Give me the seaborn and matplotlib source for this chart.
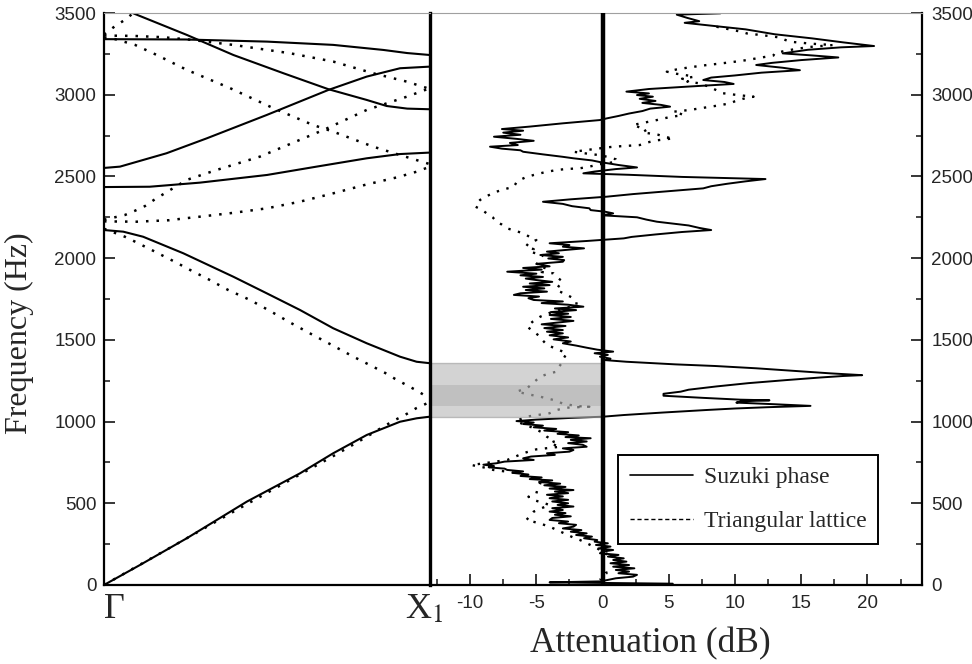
import numpy as np
import pandas as pd
import matplotlib
matplotlib.use("Agg")
import matplotlib.pyplot as plt
from matplotlib.lines import Line2D
from matplotlib.ticker import MultipleLocator
import seaborn as sns

# ---- band structure Gamma -> X1 (k = fraction of the path), frequency in Hz
# Suzuki phase (solid)
s1_k = [0, 0.11, 0.254, 0.438, 0.601, 0.703, 0.806, 0.908, 0.959, 1.0]
s1_f = [0, 122, 286, 510, 683, 806, 918, 999, 1020, 1030]
s2_k = [0, 0.059, 0.12, 0.243, 0.397, 0.499, 0.601, 0.703, 0.806, 0.908, 0.959, 1.0]
s2_f = [2172, 2162, 2131, 2030, 1886, 1785, 1683, 1571, 1479, 1397, 1366, 1357]
s3_k = [0, 0.14, 0.294, 0.5, 0.652, 0.806, 0.908, 1.0]
s3_f = [2435, 2437, 2462, 2509, 2560, 2611, 2637, 2646]
s4_k = [0, 0.049, 0.192, 0.315, 0.499, 0.688, 0.806, 0.908, 1.0]
s4_f = [2552, 2560, 2642, 2733, 2876, 3029, 3111, 3162, 3172]
s5_k = [0, 0.25, 0.5, 0.703, 0.857, 0.93, 1.0]
s5_f = [3340, 3338, 3325, 3305, 3274, 3255, 3243]
s6_k = [0, 0.045, 0.09, 0.254, 0.397, 0.551, 0.688, 0.806, 0.867, 0.93, 1.0]
s6_f = [3560, 3535, 3498, 3366, 3243, 3131, 3034, 2968, 2931, 2915, 2911]

# triangular lattice (dotted)
t1_k = [0, 0.2, 0.4, 0.6, 0.7, 0.8, 0.857, 0.893, 0.923, 0.957, 1.0]
t1_f = [0, 225, 452, 675, 785, 900, 969, 1010, 1040, 1081, 1120]
t2_k = [0, 0.064, 0.095, 0.126, 0.162, 0.192, 0.223, 0.254, 0.32, 0.381, 0.448,
        0.509, 0.57, 0.637, 0.703, 0.765, 0.826, 0.862, 0.893, 0.959, 0.988, 1.0]
t2_f = [2180, 2131, 2101, 2070, 2034, 2003, 1972, 1938, 1871, 1805, 1744,
        1677, 1607, 1534, 1464, 1397, 1335, 1298, 1261, 1190, 1155, 1150]
t3_k = [0, 0.1, 0.2, 0.25, 0.3, 0.4, 0.5, 0.6, 0.7, 0.8, 0.9, 0.959, 1.0]
t3_f = [2225, 2223, 2232, 2244, 2255, 2278, 2305, 2345, 2395, 2448, 2495, 2529, 2560]
t4_k = [0, 0.064, 0.095, 0.126, 0.156, 0.254, 0.346, 0.478, 0.6, 0.673, 0.806, 0.929, 1.0]
t4_f = [2235, 2264, 2290, 2319, 2360, 2479, 2540, 2621, 2723, 2784, 2907, 2988, 3040]
t5_k = [0, 0.034, 0.095, 0.162, 0.254, 0.387, 0.518, 0.641, 0.703, 0.826, 0.908, 1.0]
t5_f = [3348, 3340, 3305, 3243, 3152, 3040, 2919, 2815, 2774, 2682, 2631, 2575]
t6_k = [0, 0.09, 0.18, 0.254, 0.396, 0.57, 0.703, 0.826, 0.929, 1.0]
t6_f = [3362, 3360, 3352, 3339, 3305, 3254, 3203, 3131, 3080, 3035]
t7_k = [0, 0.034, 0.064, 0.09, 0.11]
t7_f = [3368, 3420, 3458, 3500, 3540]

# ---- measured attenuation (dB) vs frequency (Hz)
suzuki_hz = [3506, 3498, 3490, 3470, 3450, 3440, 3425, 3400, 3370, 3345, 3320, 3298, 3290, 3275,
             3253, 3240, 3228, 3212, 3195, 3182, 3165, 3150, 3135, 3118, 3105, 3090, 3078, 3066,
             3050, 3035, 3019, 3008, 2998, 2988, 2975, 2962, 2950, 2938, 2927, 2915, 2900, 2885,
             2870, 2855, 2845, 2825, 2805, 2790, 2780, 2768, 2755, 2743, 2730, 2718, 2705, 2692,
             2682, 2670, 2660, 2651, 2635, 2620, 2611, 2598, 2588, 2570, 2555, 2545, 2530, 2519,
             2510, 2497, 2484, 2470, 2455, 2440, 2427, 2410, 2392, 2376, 2360, 2345, 2332, 2318,
             2305, 2294, 2284, 2274, 2262, 2250, 2236, 2223, 2200, 2185, 2172, 2160, 2145, 2130,
             2121, 2105, 2091, 2080, 2070, 2060, 2050, 2040, 2030, 2019, 2008, 1998, 1988, 1978,
             1965, 1950, 1940, 1930, 1917, 1905, 1895, 1885, 1875, 1866, 1855, 1845, 1835, 1825,
             1815, 1805, 1795, 1785, 1775, 1765, 1755, 1744, 1735, 1725, 1715, 1703, 1692, 1682,
             1670, 1660, 1652, 1640, 1628, 1616, 1605, 1595, 1585, 1572, 1560, 1550, 1540, 1528,
             1515, 1503, 1490, 1479, 1465, 1452, 1440, 1428, 1418, 1408, 1397, 1385, 1376, 1366,
             1350, 1340, 1326, 1310, 1295, 1284, 1279, 1270, 1254, 1235, 1215, 1195, 1183, 1170,
             1158, 1145, 1134, 1130, 1124, 1116, 1106, 1096, 1088, 1080, 1071, 1055, 1040, 1030,
             1022, 1012, 1003, 994, 985, 975, 965, 955, 945, 935, 925, 915, 905, 898,
             888, 878, 868, 858, 846, 836, 826, 816, 806, 796, 786, 775, 765, 755,
             745, 736, 728, 720, 712, 704, 695, 686, 676, 667, 658, 648, 640, 630,
             620, 610, 600, 590, 581, 572, 562, 552, 542, 531, 521, 511, 500, 490,
             480, 470, 459, 449, 440, 430, 420, 410, 398, 388, 378, 368, 357, 346,
             336, 326, 316, 306, 296, 286, 275, 265, 255, 245, 235, 224, 214, 204,
             194, 184, 174, 163, 153, 143, 133, 122, 112, 102, 92, 82, 72, 62,
             51, 41, 31, 22, 16, 12, 8]
suzuki_db = [4.8, 8.9, 5.6, 6.4, 7.3, 6.2, 7.9, 10.8, 13.0, 15.8, 18.2, 20.5, 18.0, 15.5,
             13.6, 15.9, 17.8, 15.0, 12.8, 11.6, 13.6, 14.9, 12.0, 10.0, 8.2, 7.6, 9.2, 9.9,
             6.5, 3.5, 1.8, 3.5, 2.6, 3.8, 2.8, 4.0, 3.0, 4.4, 5.1, 3.6, 3.0, 2.0,
             1.2, 0.3, -0.2, -3.0, -5.5, -7.6, -6.0, -7.5, -6.2, -8.2, -6.5, -5.2, -7.0, -6.4,
             -8.5, -7.6, -6.2, -6.0, -4.5, -3.0, -2.2, -0.8, -0.2, 1.2, 2.6, 1.0, -0.6, -1.45,
             2.0, 6.0, 12.3, 10.8, 9.4, 8.2, 7.6, 5.0, 2.3, 0.3, -2.4, -4.5, -3.0, -2.3,
             -1.0, -0.9, 0.2, 0.8, 0.0, 2.6, 3.3, 4.1, 6.5, 7.3, 8.2, 6.0, 4.0, 2.2,
             1.6, -1.2, -4.0, -2.5, -3.0, -1.4, -2.8, -4.2, -3.3, -4.7, -3.0, -4.1, -2.9, -3.0,
             -5.0, -4.0, -6.0, -4.6, -7.2, -5.0, -6.2, -4.5, -5.8, -5.0, -3.8, -5.5, -4.0, -6.0,
             -4.4, -5.8, -4.2, -6.2, -6.7, -4.8, -5.6, -5.2, -3.0, -4.6, -2.6, -1.45, -3.6, -2.0,
             -3.9, -2.6, -4.0, -2.4, -3.9, -2.2, -3.5, -4.6, -2.8, -4.4, -3.0, -4.2, -3.0, -4.0,
             -2.6, -3.7, -2.4, -3.0, -2.0, -1.2, -0.4, 0.8, -0.6, 0.4, -0.2, 0.6, 0.2, 1.8,
             5.5, 8.5, 11.6, 14.5, 17.2, 19.6, 18.2, 16.5, 13.9, 11.0, 8.6, 6.5, 5.9, 4.6,
             4.6, 7.6, 10.4, 12.6, 10.5, 10.1, 13.0, 15.7, 12.5, 10.0, 7.9, 4.5, 1.6, 0.06,
             -2.5, -5.0, -6.5, -5.2, -6.0, -4.5, -5.2, -3.5, -4.4, -2.6, -3.4, -1.8, -2.8, -0.9,
             -2.4, -1.2, -2.6, -1.5, -1.2, -3.0, -2.2, -2.5, -4.2, -3.6, -5.4, -6.0, -5.2, -7.4,
             -8.0, -9.0, -8.2, -8.6, -7.4, -7.2, -6.0, -6.8, -5.6, -6.2, -4.6, -5.5, -3.8, -4.8,
             -3.2, -4.4, -2.8, -4.0, -2.2, -3.6, -2.6, -4.2, -3.0, -4.0, -2.6, -3.8, -2.6, -3.4,
             -2.2, -3.8, -3.0, -4.0, -2.8, -3.6, -2.4, -3.8, -4.0, -2.6, -3.3, -2.0, -2.2, -3.0,
             -1.6, -2.4, -1.2, -2.0, -0.8, -1.4, -0.4, -0.6, 0.4, -0.5, 0.6, -0.3, 0.8, 0.0,
             -0.2, 1.2, 0.4, 1.6, 0.8, 1.8, 0.6, 2.0, 0.8, 2.4, 1.0, 2.0, 1.2, 2.6,
             2.3, 1.0, 0.4, -0.2, -4.0, 0.5, 5.3]

triangular_hz = [3416, 3400, 3385, 3375, 3360, 3350, 3335, 3324, 3312, 3304, 3292, 3280, 3270, 3255,
                 3240, 3225, 3212, 3200, 3190, 3182, 3168, 3155, 3141, 3128, 3118, 3110, 3098, 3088,
                 3080, 3070, 3060, 3049, 3035, 3020, 3009, 2998, 2988, 2975, 2960, 2947, 2935, 2925,
                 2917, 2907, 2896, 2886, 2876, 2862, 2845, 2830, 2815, 2800, 2784, 2770, 2755, 2740,
                 2733, 2720, 2708, 2692, 2682, 2668, 2651, 2640, 2630, 2621, 2605, 2590, 2575, 2560,
                 2550, 2545, 2539, 2525, 2509, 2495, 2480, 2465, 2450, 2437, 2422, 2407, 2392, 2375,
                 2356, 2335, 2315, 2295, 2274, 2250, 2223, 2205, 2182, 2165, 2152, 2130, 2111, 2090,
                 2070, 2055, 2039, 2019, 1990, 1958, 1935, 1915, 1907, 1880, 1856, 1830, 1805, 1780,
                 1754, 1735, 1713, 1690, 1665, 1642, 1610, 1581, 1550, 1519, 1495, 1469, 1445, 1418,
                 1392, 1366, 1335, 1305, 1290, 1275, 1240, 1204, 1183, 1165, 1152, 1132, 1110, 1095,
                 1091, 1085, 1070, 1051, 1030, 1015, 999, 980, 959, 935, 907, 880, 867, 846,
                 830, 806, 785, 765, 750, 734, 720, 704, 683, 660, 640, 622, 590, 560,
                 540, 520, 490, 470, 449, 420, 398, 378, 357, 320, 290, 275, 240, 215,
                 194, 160, 133, 100, 72, 50, 31]
triangular_db = [8.6, 9.6, 10.5, 10.9, 12.5, 13.4, 13.8, 14.2, 15.8, 17.4, 15.6, 14.6, 13.9, 13.0,
                 12.9, 11.8, 10.9, 9.8, 8.8, 7.9, 6.6, 5.6, 4.85, 5.6, 6.4, 6.9, 6.0, 6.6,
                 6.4, 7.3, 7.6, 8.1, 8.4, 8.8, 9.1, 10.2, 11.4, 10.6, 10.0, 9.6, 8.8, 8.0,
                 7.4, 6.6, 5.35, 5.8, 6.1, 5.0, 4.1, 3.2, 2.3, 2.8, 3.3, 3.0, 4.2, 4.8,
                 5.35, 4.0, 3.4, 2.8, 0.8, -0.6, -2.2, -1.2, -0.2, 0.3, 1.0, 1.1, -0.2, -1.0,
                 -1.7, -2.8, -3.5, -4.4, -5.2, -5.8, -6.2, -6.5, -6.6, -6.7, -7.4, -8.0, -8.4, -8.9,
                 -9.25, -9.5, -9.6, -9.1, -8.75, -8.3, -8.0, -7.6, -7.2, -6.5, -6.0, -5.5, -5.0, -5.6,
                 -5.8, -5.2, -5.5, -4.5, -4.8, -5.0, -4.2, -4.6, -3.7, -3.4, -3.0, -3.3, -3.5, -2.8,
                 -2.2, -2.0, -1.95, -3.0, -4.0, -4.7, -5.3, -5.7, -5.2, -4.7, -4.5, -4.2, -3.5, -2.7,
                 -2.9, -3.0, -3.3, -3.5, -4.2, -4.7, -5.2, -5.7, -6.5, -5.5, -4.7, -3.7, -3.0, -2.0,
                 -1.0, -2.7, -3.5, -4.0, -5.75, -6.2, -6.5, -5.8, -5.2, -4.6, -4.2, -3.6, -4.0, -3.2,
                 -5.0, -6.0, -6.6, -7.2, -8.5, -9.9, -9.0, -8.25, -6.2, -5.5, -5.0, -4.7, -4.9, -5.0,
                 -5.6, -5.2, -4.0, -4.6, -5.2, -5.5, -5.75, -4.8, -4.0, -3.0, -2.2, -1.7, -0.8, -0.2,
                 0.3, 0.1, 0.06, 0.2, 0.3, 0.0, -0.2]

gap_outer = (1030, 1360)   # Suzuki band gap (light shading)
gap_inner = (1095, 1224)   # darker core
freq_ticks = list(range(0, 3501, 500))
att_ticks = [-10, -5, 0, 5, 10, 15, 20]
att_lim = (-13.03, 24.1)

sns.set_style("ticks")
plt.rcParams.update({
    "font.family": ["Liberation Sans", "DejaVu Sans"],
    "mathtext.fontset": "stix",
    "axes.unicode_minus": False,
    "axes.edgecolor": "black",
})

DOTS = (0, (1, 3.2))
serif = ["Liberation Serif", "DejaVu Serif"]


def band_frame(pairs):
    rows = []
    for i, (k, f) in enumerate(pairs):
        rows.append(pd.DataFrame({"k": k, "f": f, "band": i}))
    return pd.concat(rows, ignore_index=True)


suzuki_bands = band_frame([(s1_k, s1_f), (s2_k, s2_f), (s3_k, s3_f),
                           (s4_k, s4_f), (s5_k, s5_f), (s6_k, s6_f)])
tri_bands = band_frame([(t1_k, t1_f), (t2_k, t2_f), (t3_k, t3_f), (t4_k, t4_f),
                        (t5_k, t5_f), (t6_k, t6_f), (t7_k, t7_f)])

fig = plt.figure(figsize=(9.72, 6.64), dpi=100)
ax2 = fig.add_axes([0.4424, 0.1190, 0.5059, 0.8614])
ax1 = fig.add_axes([0.1070, 0.1190, 0.3354, 0.8614])
ax1.patch.set_alpha(0)

# left: band structure
sns.lineplot(data=tri_bands, x="k", y="f", units="band", estimator=None, sort=False,
             color="black", lw=1.8, linestyle=DOTS, dash_capstyle="butt", ax=ax1)
sns.lineplot(data=suzuki_bands, x="k", y="f", units="band", estimator=None, sort=False,
             color="black", lw=1.5, ax=ax1)
ax1.set_xlim(0, 1)
ax1.set_ylim(0, 3500)
# symmetry point labels (X1 nudged left so the subscript sits past the line)
ax1.set_xticks([0, 0.982])
ax1.set_xticklabels(["Γ", "X$_1$"])
for lab in ax1.get_xticklabels():
    lab.set_fontfamily(serif)
    lab.set_fontsize(26)
ax1.get_xticklabels()[0].set_horizontalalignment("left")
ax1.tick_params(axis="x", length=0, pad=6)
ax1.set_yticks(freq_ticks)
ax1.yaxis.set_minor_locator(MultipleLocator(250))
ax1.tick_params(axis="y", which="major", direction="in", length=8, width=1.3,
                labelsize=13.5, pad=5.5)
ax1.tick_params(axis="y", which="minor", direction="in", length=4.5, width=1.2)
ax1.set_xlabel("")
ax1.set_ylabel("Frequency (Hz)", fontfamily=serif, fontsize=23)
ax1.yaxis.set_label_coords(-0.215, 0.44)
for side in ["left", "bottom"]:
    ax1.spines[side].set_linewidth(1.6)
ax1.spines["right"].set_linewidth(2.4)
ax1.spines["top"].set_linewidth(0.8)
ax1.spines["top"].set_color("#a0a0a0")

# right: attenuation spectra
sns.lineplot(x=triangular_db, y=triangular_hz, sort=False, estimator=None, orient="y",
             color="black", lw=1.7, linestyle=DOTS, dash_capstyle="butt", ax=ax2, zorder=2)
sns.lineplot(x=suzuki_db, y=suzuki_hz, sort=False, estimator=None, orient="y",
             color="black", lw=1.4, ax=ax2, zorder=2.5)
ax2.fill_betweenx(gap_outer, att_lim[0], 0, color="#b7b7b7", alpha=0.6, lw=1,
                  edgecolor="#9a9a9a", zorder=3)
ax2.fill_betweenx(gap_inner, att_lim[0], 0, color="#8a8a8a", alpha=0.25, lw=0, zorder=3)
ax2.axvline(0, color="black", lw=3.2, zorder=4)

ax2.set_xlim(*att_lim)
ax2.set_ylim(0, 3500)
ax2.set_xticks(att_ticks)
ax2.xaxis.set_minor_locator(MultipleLocator(2.5))
ax2.set_yticks(freq_ticks)
ax2.yaxis.set_minor_locator(MultipleLocator(250))
ax2.yaxis.tick_right()
ax2.tick_params(axis="both", which="major", direction="in", length=8, width=1.3,
                labelsize=13.5, pad=7)
ax2.tick_params(axis="both", which="minor", direction="in", length=4.5, width=1.2)
ax2.tick_params(axis="y", left=False, right=True, which="both")
ax2.set_xlabel("Attenuation (dB)", fontfamily=serif, fontsize=25.5)
ax2.xaxis.set_label_coords(0.447, -0.074)
ax2.set_ylabel("")
ax2.spines["left"].set_visible(False)
for side in ["right", "bottom"]:
    ax2.spines[side].set_linewidth(1.6)
ax2.spines["top"].set_linewidth(0.8)
ax2.spines["top"].set_color("#a0a0a0")

handles = [Line2D([0], [0], color="black", lw=1.2),
           Line2D([0], [0], color="black", lw=1.0, linestyle=(0, (3, 2)))]
leg = ax2.legend(handles, ["Suzuki phase", "Triangular lattice"],
                 loc="upper left", bbox_to_anchor=(0.6355, 0.3148),
                 bbox_transform=fig.transFigure, borderaxespad=0,
                 prop={"family": serif, "size": 17}, handlelength=2.7,
                 handletextpad=0.45, labelspacing=0.95, borderpad=0.5,
                 fancybox=False, framealpha=1, edgecolor="black")
leg.get_frame().set_linewidth(1.4)

fig.savefig("out.png", dpi=100)
